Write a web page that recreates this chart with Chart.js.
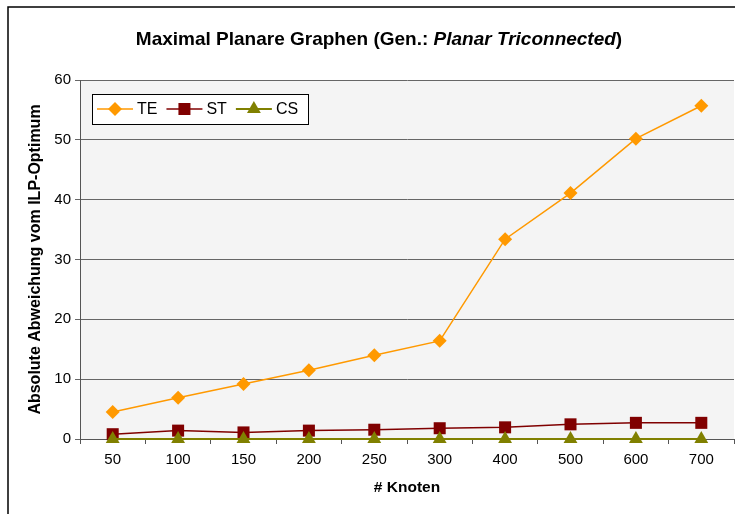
<!DOCTYPE html>
<html>
<head>
  <script src="https://cdn.jsdelivr.net/npm/chart.js@4/dist/chart.umd.min.js"></script>
  <style>
    body { margin: 0; background: #fff; }
  </style>
</head>
<body>
  <canvas id="myChart" width="735" height="514"></canvas>

  <script type="text/javascript">
    // data
    var knoten = ['50', '100', '150', '200', '250', '300', '400', '500', '600', '700'];
    var te = [4.5, 6.9, 9.2, 11.5, 14.0, 16.4, 33.4, 41.1, 50.2, 55.7];
    var st = [0.8, 1.4, 1.1, 1.4, 1.55, 1.8, 1.95, 2.45, 2.7, 2.7];
    var cs = [0, 0, 0, 0, 0, 0, 0, 0, 0, 0];
    var yTicks = [0, 10, 20, 30, 40, 50, 60];

    var FONT = 'Arial, "Liberation Sans", sans-serif';

    // plot background, outer frame, title, legend
    var decor = {
      id: 'decor',
      beforeDraw: function(chart) {
        var ctx = chart.ctx, a = chart.chartArea;
        ctx.save();
        ctx.fillStyle = '#F4F4F4';
        ctx.fillRect(a.left, a.top, a.right - a.left, a.bottom - a.top);
        // outer frame
        ctx.strokeStyle = '#000';
        ctx.lineWidth = 1.5;
        ctx.beginPath();
        ctx.moveTo(8, 520);
        ctx.lineTo(8, 7);
        ctx.lineTo(740, 7);
        ctx.stroke();
        ctx.restore();
      },
      afterDraw: function(chart) {
        var ctx = chart.ctx;
        ctx.save();
        // title with italic part
        var parts = [
          ['Maximal Planare Graphen (Gen.: ', 'bold 19px ' + FONT],
          ['Planar Triconnected', 'italic bold 19px ' + FONT],
          [')', 'bold 19px ' + FONT]
        ];
        var total = 0;
        parts.forEach(function(p) { ctx.font = p[1]; total += ctx.measureText(p[0]).width; });
        var x = 379 - total / 2;
        ctx.fillStyle = '#000';
        ctx.textBaseline = 'alphabetic';
        parts.forEach(function(p) {
          ctx.font = p[1];
          ctx.fillText(p[0], x, 45);
          x += ctx.measureText(p[0]).width;
        });

        // legend box
        var bx = 92, by = 94, bw = 216, bh = 30;
        ctx.fillStyle = '#fff';
        ctx.fillRect(bx, by, bw, bh);
        ctx.strokeStyle = '#000';
        ctx.lineWidth = 1;
        ctx.strokeRect(bx + 0.5, by + 0.5, bw, bh);
        var cy = by + bh / 2;
        var lx = bx + 5;
        ctx.font = '16px ' + FONT;
        ctx.textBaseline = 'middle';
        chart.data.datasets.forEach(function(ds) {
          ctx.strokeStyle = ds.borderColor;
          ctx.lineWidth = ds.borderWidth;
          ctx.beginPath();
          ctx.moveTo(lx, cy);
          ctx.lineTo(lx + 36, cy);
          ctx.stroke();
          ctx.fillStyle = ds.pointBackgroundColor;
          ctx.strokeStyle = ds.pointBackgroundColor;
          Chart.helpers.drawPoint(ctx, {
            pointStyle: ds.pointStyle, radius: ds.pointRadius, borderWidth: 0, rotation: 0
          }, lx + 18, cy);
          ctx.fillStyle = '#000';
          ctx.fillText(ds.label, lx + 40, cy + 1);
          lx += 40 + ctx.measureText(ds.label).width + 9;
        });
        ctx.restore();
      }
    };

    var ctx = document.getElementById('myChart').getContext('2d');
    var chart = new Chart(ctx, {
      type: 'line',
      data: {
        labels: knoten,
        datasets: [{
          label: 'TE',
          data: te,
          borderColor: '#FF9900',
          backgroundColor: '#FF9900',
          pointBackgroundColor: '#FF9900',
          pointBorderWidth: 0,
          borderWidth: 1.5,
          pointStyle: 'rectRot',
          pointRadius: 7,
          order: 2,
          clip: false
        }, {
          label: 'ST',
          data: st,
          borderColor: '#800000',
          backgroundColor: '#800000',
          pointBackgroundColor: '#800000',
          pointBorderWidth: 0,
          borderWidth: 1.5,
          pointStyle: 'rect',
          pointRadius: 8.5,
          order: 1,
          clip: false
        }, {
          label: 'CS',
          data: cs,
          borderColor: '#808000',
          backgroundColor: '#808000',
          pointBackgroundColor: '#808000',
          pointBorderWidth: 0,
          borderWidth: 2,
          pointStyle: 'triangle',
          pointRadius: 8,
          order: 0,
          clip: false
        }]
      },
      options: {
        responsive: false,
        animation: false,
        layout: { autoPadding: false, padding: { top: 80, left: 0, right: 1, bottom: 0 } },
        plugins: {
          legend: { display: false },
          title: { display: false },
          tooltip: { enabled: false }
        },
        scales: {
          x: {
            offset: true,
            afterFit: function(s) { s.height = 75; s.paddingLeft = 0; s.paddingRight = 0; },
            grid: { drawOnChartArea: false, offset: true, tickLength: 5, color: '#555' },
            border: { color: '#555', width: 1 },
            ticks: { color: '#000', font: { family: FONT, size: 15 }, padding: 7, maxRotation: 0 },
            title: {
              display: true, text: '# Knoten', color: '#000',
              font: { family: FONT, size: 15.5, weight: 'bold' },
              padding: { top: 0, bottom: 17 }
            }
          },
          y: {
            min: 0, max: 60,
            afterFit: function(s) { s.width = 80; s.paddingTop = 0; s.paddingBottom = 0; },
            afterBuildTicks: function(s) { s.ticks = yTicks.map(function(v) { return { value: v }; }); },
            grid: { color: '#666', tickLength: 5 },
            border: { color: '#555', width: 1 },
            ticks: { color: '#000', font: { family: FONT, size: 15 }, padding: 4 },
            title: {
              display: true, text: 'Absolute Abweichung vom ILP-Optimum', color: '#000',
              font: { family: FONT, size: 16, weight: 'bold' },
              padding: { top: 26, bottom: 0 }
            }
          }
        }
      },
      plugins: [decor]
    });
  </script>
</body>
</html>
